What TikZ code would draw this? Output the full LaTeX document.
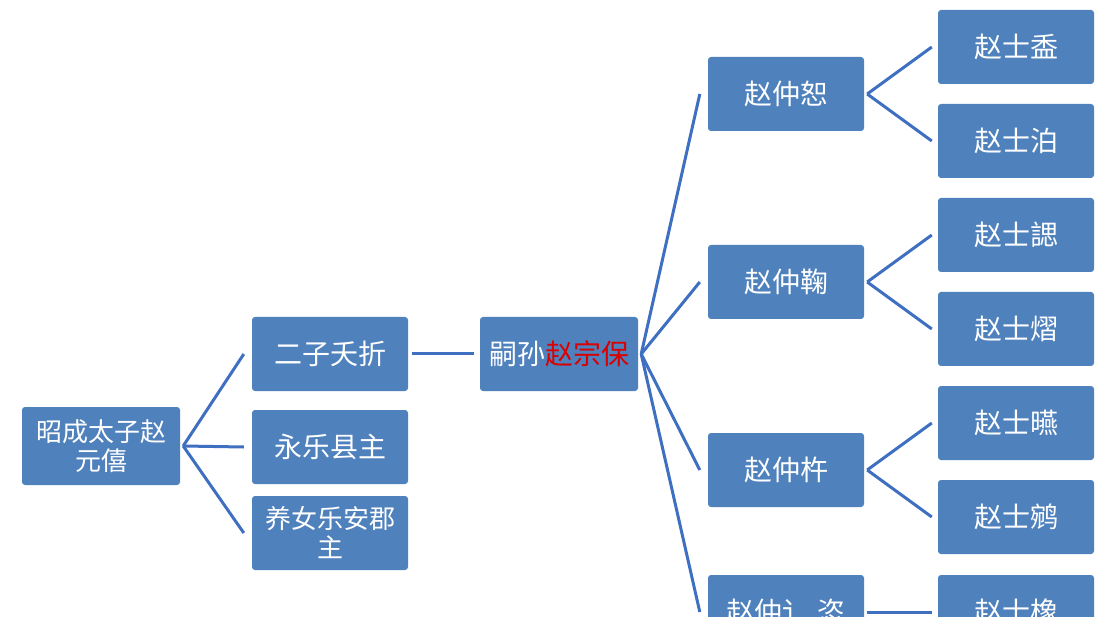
\documentclass[tikz,border=0pt]{standalone}
\usepackage{fontspec}
\setmainfont{Noto Sans CJK SC}
\begin{document}
\begin{tikzpicture}[x=1pt,y=-1pt,
 box/.style={draw=none,fill=boxblue,rounded corners=3pt,minimum width=156pt,minimum height=74pt,text=white,font=\fontsize{28}{30}\selectfont,align=center,inner sep=1pt},
 conn/.style={draw=lineblue,line width=3pt}]
\definecolor{boxblue}{HTML}{4F81BD}
\definecolor{lineblue}{HTML}{3F6FC0}
\path[use as bounding box] (0,0) rectangle (1116,617);
\clip (0,0) rectangle (1116,617);
\node[box,minimum width=158pt,minimum height=78pt,font=\fontsize{26}{29}\selectfont] (root) at (101,446) {昭成太子赵\\元僖};
\node[box] (a1) at (330,354) {二子夭折};
\node[box] (a2) at (330,447) {永乐县主};
\node[box,font=\fontsize{26}{29}\selectfont] (a3) at (330,533) {养女乐安郡\\主};
\node[box,minimum width=158pt] (s) at (559,354) {嗣孙\textcolor{red!85!black}{赵宗保}};
\node[box] (b1) at (786,94) {赵仲恕};
\node[box] (b2) at (786,282) {赵仲鞠};
\node[box] (b3) at (786,470) {赵仲杵};
\node[box] (b4) at (786,612) {赵仲讠 恣};
\node[box] (c1) at (1016,47) {赵士盉};
\node[box] (c2) at (1016,141) {赵士泊};
\node[box] (c3) at (1016,235) {赵士諰};
\node[box] (c4) at (1016,329) {赵士熠};
\node[box] (c5) at (1016,423) {赵士曣};
\node[box] (c6) at (1016,517) {赵士鹓};
\node[box] (c7) at (1016,612) {赵士橡};
\coordinate (r0) at ([xshift=3pt]root.east);
\foreach \n in {a1,a2,a3} \draw[conn] (r0) -- ([xshift=-8pt]\n.west);
\draw[conn] ([xshift=4pt]a1.east) -- ([xshift=-6pt]s.west);
\coordinate (s0) at ([xshift=3pt]s.east);
\foreach \n in {b1,b2,b3,b4} \draw[conn] (s0) -- ([xshift=-8pt]\n.west);
\coordinate (t1) at ([xshift=3pt]b1.east);
\coordinate (t2) at ([xshift=3pt]b2.east);
\coordinate (t3) at ([xshift=3pt]b3.east);
\draw[conn] (t1) -- ([xshift=-6pt]c1.west);
\draw[conn] (t1) -- ([xshift=-6pt]c2.west);
\draw[conn] (t2) -- ([xshift=-6pt]c3.west);
\draw[conn] (t2) -- ([xshift=-6pt]c4.west);
\draw[conn] (t3) -- ([xshift=-6pt]c5.west);
\draw[conn] (t3) -- ([xshift=-6pt]c6.west);
\draw[conn] (t3|-b4.east) -- ([xshift=-6pt]c7.west);
\end{tikzpicture}
\end{document}
